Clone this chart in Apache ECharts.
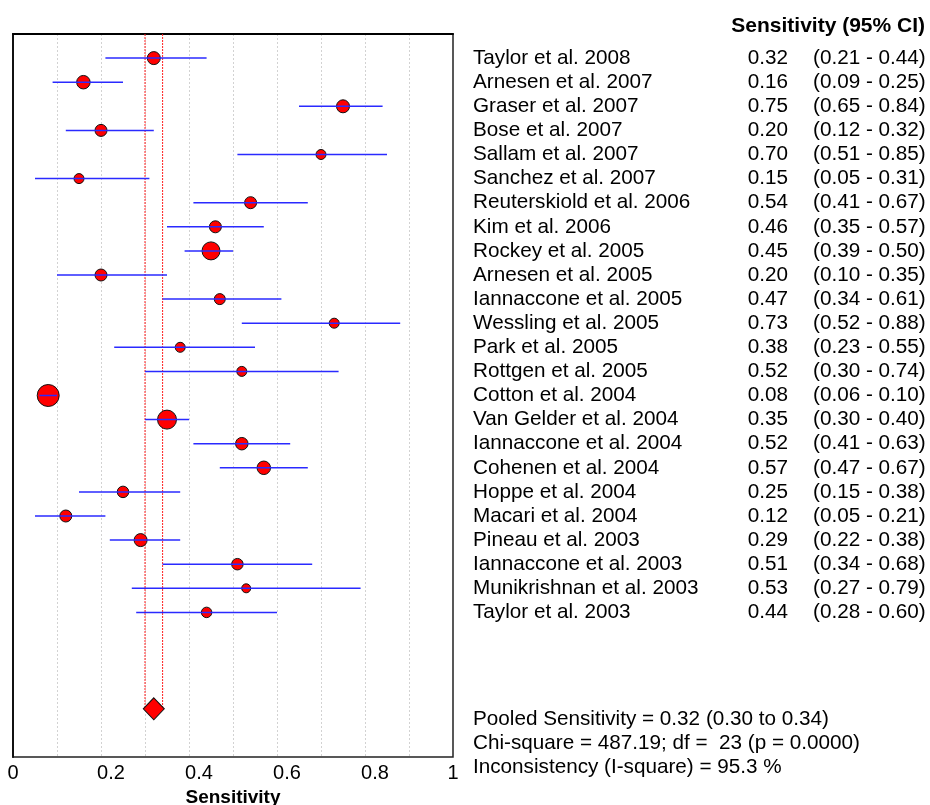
<!DOCTYPE html>
<html>
<head>
<meta charset="utf-8">
<script src="https://cdn.jsdelivr.net/npm/echarts@6/dist/echarts.min.js"></script>
<style>
html,body{margin:0;padding:0;background:#fff;}
#chart{width:930px;height:805px;}
</style>
</head>
<body>
<div id="chart"></div>
<script>
// ---- data ----
var studies = ["Taylor et al. 2008","Arnesen et al. 2007","Graser et al. 2007","Bose et al. 2007","Sallam et al. 2007","Sanchez et al. 2007","Reuterskiold et al. 2006","Kim et al. 2006","Rockey et al. 2005","Arnesen et al. 2005","Iannaccone et al. 2005","Wessling et al. 2005","Park et al. 2005","Rottgen et al. 2005","Cotton et al. 2004","Van Gelder et al. 2004","Iannaccone et al. 2004","Cohenen et al. 2004","Hoppe et al. 2004","Macari et al. 2004","Pineau et al. 2003","Iannaccone et al. 2003","Munikrishnan et al. 2003","Taylor et al. 2003"];
var sens  = [0.32,0.16,0.75,0.20,0.70,0.15,0.54,0.46,0.45,0.20,0.47,0.73,0.38,0.52,0.08,0.35,0.52,0.57,0.25,0.12,0.29,0.51,0.53,0.44];
var lower = [0.21,0.09,0.65,0.12,0.51,0.05,0.41,0.35,0.39,0.10,0.34,0.52,0.23,0.30,0.06,0.30,0.41,0.47,0.15,0.05,0.22,0.34,0.27,0.28];
var upper = [0.44,0.25,0.84,0.32,0.85,0.31,0.67,0.57,0.50,0.35,0.61,0.88,0.55,0.74,0.10,0.40,0.63,0.67,0.38,0.21,0.38,0.68,0.79,0.60];
var weight = [12,12.5,12,11,9,9,11,11,17,11,10,9,9,9,21,18,11.5,12.5,10.5,11,12,10.5,8,9.5];
var pooled = 0.32, pooledLo = 0.30, pooledHi = 0.34;
var xTicks = [0,0.2,0.4,0.6,0.8,1];
var headerText = "Sensitivity (95% CI)";
var axisTitle = "Sensitivity";
var footer = ["Pooled Sensitivity = 0.32 (0.30 to 0.34)","Chi-square = 487.19; df =  23 (p = 0.0000)","Inconsistency (I-square) = 95.3 %"];

// ---- build ----
var FONT = "'Liberation Sans', Arial, sans-serif";
var TXT = 20.7;
var pooledRow = 28;
var ciData = [], ptData = [], txtData = [];
for (var i = 0; i < studies.length; i++) {
  ciData.push([lower[i], upper[i], i + 1]);
  ptData.push([sens[i], i + 1, weight[i]]);
  txtData.push([0, i + 1, i]);
}

var chart = echarts.init(document.getElementById('chart'), null, {renderer:'canvas'});
var option = {
  animation: false,
  backgroundColor: '#fff',
  grid: [
    {left: 13, top: 34, width: 440, height: 723, containLabel: false, outerBoundsMode: 'none',
     show: true, borderColor: '#222', borderWidth: 1.5, backgroundColor: 'transparent'},
    {left: 473, top: 34, width: 450, height: 723, containLabel: false, outerBoundsMode: 'none', show: false}
  ],
  xAxis: [
    {gridIndex: 0, type: 'value', min: 0, max: 1, interval: 0.1,
     axisLine: {show: true, lineStyle: {color: '#000', width: 2}},
     axisTick: {show: false},
     splitLine: {show: true, showMinLine: false, showMaxLine: false, lineStyle: {color: '#d2d2d2', type: [2, 2], width: 1}},
     axisLabel: {
       margin: 6, color: '#000', fontFamily: FONT, fontSize: 20,
       formatter: function (v) {
         var r = Math.round(v * 10) / 10;
         for (var k = 0; k < xTicks.length; k++) {
           if (Math.abs(xTicks[k] - r) < 1e-9) {
             var s = String(xTicks[k]);
             return s.indexOf('.') >= 0 ? '{d|' + s + '}' : s;
           }
         }
         return '';
       },
       rich: {d: {fontFamily: FONT, fontSize: 20, color: '#000', padding: [0, 0, 0, 20]}}
     },
     name: axisTitle, nameLocation: 'middle', nameGap: 29,
     nameTextStyle: {fontFamily: FONT, fontSize: 19, fontWeight: 'bold', color: '#000'}
    },
    {gridIndex: 1, type: 'value', min: 0, max: 1, show: false}
  ],
  yAxis: [
    {gridIndex: 0, type: 'value', min: 0, max: 30, inverse: true, show: true,
     axisLine: {show: true, lineStyle: {color: '#111', width: 2}},
     axisTick: {show: false}, axisLabel: {show: false}, splitLine: {show: false}},
    {gridIndex: 1, type: 'value', min: 0, max: 30, inverse: true, show: false}
  ],
  series: [
    {
      type: 'line', xAxisIndex: 0, yAxisIndex: 0, symbol: 'none', z: 2,
      data: [[pooledLo, 0], [pooledLo, pooledRow]],
      lineStyle: {color: '#ff2020', width: 1, type: [2, 1]}
    },
    {
      type: 'line', xAxisIndex: 0, yAxisIndex: 0, symbol: 'none', z: 2,
      data: [[pooledHi, 0], [pooledHi, pooledRow]],
      lineStyle: {color: '#ff2020', width: 1, type: [2, 1]}
    },
    {
      type: 'scatter', xAxisIndex: 0, yAxisIndex: 0, z: 3,
      data: ptData,
      symbol: 'circle',
      symbolSize: function (v) { return v[2] + 1; },
      itemStyle: {color: '#ff0000', borderColor: '#111', borderWidth: 1, opacity: 1}
    },
    {
      type: 'custom', xAxisIndex: 0, yAxisIndex: 0, z: 4,
      data: ciData,
      renderItem: function (params, api) {
        var a = api.coord([api.value(0), api.value(2)]);
        var b = api.coord([api.value(1), api.value(2)]);
        return {type: 'line', shape: {x1: a[0], y1: a[1], x2: b[0], y2: b[1]},
                style: {stroke: '#2a2aff', lineWidth: 1.5}};
      }
    },
    {
      type: 'scatter', xAxisIndex: 0, yAxisIndex: 0, z: 5,
      data: [[pooled, pooledRow]],
      symbol: 'diamond', symbolSize: [21, 22],
      itemStyle: {color: '#ff0000', borderColor: '#111', borderWidth: 1, opacity: 1}
    },
    {
      type: 'custom', xAxisIndex: 1, yAxisIndex: 1, z: 5,
      data: txtData,
      renderItem: function (params, api) {
        var idx = api.value(2);
        var p = api.coord([0, api.value(1)]);
        var base = {fontFamily: FONT, fontSize: TXT, fill: '#000', textVerticalAlign: 'middle'};
        return {type: 'group', children: [
          {type: 'text', style: Object.assign({}, base, {x: p[0], y: p[1], text: studies[idx], textAlign: 'left'})},
          {type: 'text', style: Object.assign({}, base, {x: p[0] + 315, y: p[1], text: sens[idx].toFixed(2), textAlign: 'right'})},
          {type: 'text', style: Object.assign({}, base, {x: p[0] + 340, y: p[1], text: '(' + lower[idx].toFixed(2) + ' - ' + upper[idx].toFixed(2) + ')', textAlign: 'left'})}
        ]};
      }
    }
  ],
  graphic: [
    {type: 'text', right: 5, top: 16, style: {text: headerText, fontFamily: FONT, fontSize: 21, fontWeight: 'bold', fill: '#000'}},
    {type: 'text', left: 473, top: 709, style: {text: footer[0], fontFamily: FONT, fontSize: TXT, fill: '#000'}},
    {type: 'text', left: 473, top: 733, style: {text: footer[1], fontFamily: FONT, fontSize: TXT, fill: '#000'}},
    {type: 'text', left: 473, top: 757, style: {text: footer[2], fontFamily: FONT, fontSize: TXT, fill: '#000'}}
  ]
};
chart.setOption(option);
</script>
</body>
</html>
